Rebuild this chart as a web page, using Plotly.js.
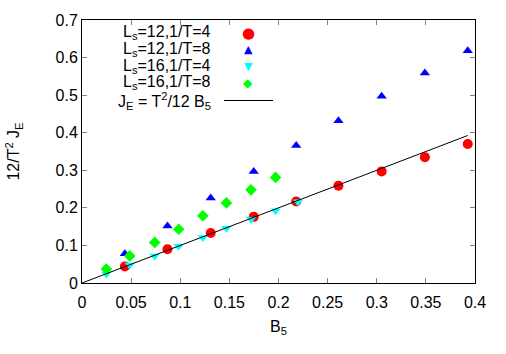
<!DOCTYPE html>
<html>
<head>
<meta charset="utf-8">
<script src="https://cdn.plot.ly/plotly-3.0.1.min.js"></script>
<style>
  html, body { margin: 0; padding: 0; background: #fff; }
  #chart { width: 506px; height: 354px; }
</style>
</head>
<body>
<div id="chart"></div>
<script>
// B5 values for the two lattice sizes
const b5L12 = [0.0436, 0.0870, 0.1310, 0.1748, 0.2180, 0.2610, 0.3050, 0.3490, 0.3926];
const b5L16 = [0.0248, 0.0486, 0.0740, 0.0984, 0.1230, 0.1470, 0.1720, 0.1970, 0.2198];

// 12/T^2 J_E
const jL12T4 = [0.044, 0.090, 0.133, 0.176, 0.217, 0.259, 0.297, 0.335, 0.370];
const jL12T8 = [0.078, 0.152, 0.226, 0.297, 0.366, 0.432, 0.497, 0.559, 0.618];
const jL16T4 = [0.024, 0.048, 0.072, 0.098, 0.121, 0.146, 0.170, 0.192, 0.216];
const jL16T8 = [0.037, 0.072, 0.108, 0.143, 0.179, 0.213, 0.248, 0.281];

// reference line J_E = T^2/12 B5
const lineX = [0, 0.3926];
const lineY = [0, 0.3926];

const labels = [
  "L<sub>s</sub>=12,1/T=4",
  "L<sub>s</sub>=12,1/T=8",
  "L<sub>s</sub>=16,1/T=4",
  "L<sub>s</sub>=16,1/T=8",
  "J<sub>E</sub> = T<sup>2</sup>/12 B<sub>5</sub>"
];
const keyGlyphs = ["●", "▲", "▼", "◆"];
const keySizes = [15, 11, 11, 12];
const colors = ["#ff0000", "#0000ff", "#00ffff", "#00ff00"];

const font = { family: "Liberation Sans, Arial, sans-serif", size: 16, color: "#000" };

const traces = [
  {
    x: b5L12, y: jL12T4, type: "scatter", mode: "markers",
    marker: { symbol: "circle", size: 10, color: colors[0] },
  },
  {
    x: b5L12, y: jL12T8, type: "scatter", mode: "markers",
    marker: { symbol: "triangle-up", size: 9, color: colors[1] },
  },
  {
    x: b5L16, y: jL16T4, type: "scatter", mode: "markers",
    marker: { symbol: "triangle-down", size: 9, color: colors[2] },
  },
  {
    x: b5L16.slice(0, jL16T8.length), y: jL16T8, type: "scatter", mode: "markers",
    marker: { symbol: "diamond", size: 9, color: colors[3] },
  },
  {
    x: lineX, y: lineY, type: "scatter", mode: "lines",
    line: { color: "#000", width: 1 },
  },
];

// gnuplot-style key: text on the left, sample on the right
// row centres in paper units (plot area is 263 px tall, from y=20)
const keyRows = [33, 49.3, 66.3, 82.5, 100.5].map(p => (283 - p) / 263);
const keyTextX = 0.3333;
const keySymX = 0.4224;
const annotations = [];
labels.forEach((t, i) => {
  annotations.push({
    text: t, xref: "paper", yref: "paper",
    x: keyTextX, y: keyRows[i],
    xanchor: "right", yanchor: "middle",
    showarrow: false, font: font,
  });
});
keyGlyphs.forEach((g, i) => {
  annotations.push({
    text: g, xref: "paper", yref: "paper",
    x: keySymX, y: keyRows[i],
    xanchor: "center", yanchor: "middle",
    showarrow: false,
    font: { family: "DejaVu Sans", size: keySizes[i], color: colors[i] },
  });
});

const shapes = [{
  type: "line", xref: "paper", yref: "paper",
  x0: 0.3613, x1: 0.486, y0: keyRows[4], y1: keyRows[4],
  line: { color: "#000", width: 1 },
}];

Plotly.newPlot(
  "chart",
  traces,
  {
    width: 506,
    height: 354,
    margin: { l: 82, r: 31, t: 20, b: 71 },
    paper_bgcolor: "#fff",
    plot_bgcolor: "#fff",
    font: font,
    showlegend: false,
    annotations: annotations,
    shapes: shapes,
    xaxis: {
      range: [0, 0.4],
      dtick: 0.05,
      tick0: 0,
      ticks: "inside",
      ticklen: 5,
      tickcolor: "#808080",
      showline: true,
      linecolor: "#000",
      linewidth: 1,
      mirror: "ticks",
      showgrid: false,
      zeroline: false,
      ticklabelstandoff: 5,
      title: { text: "B<sub>5</sub>", font: font, standoff: 10 },
    },
    yaxis: {
      range: [0, 0.7],
      dtick: 0.1,
      tick0: 0,
      ticks: "inside",
      ticklen: 5,
      tickcolor: "#808080",
      showline: true,
      linecolor: "#000",
      linewidth: 1,
      mirror: "ticks",
      showgrid: false,
      zeroline: false,
      title: { text: "12/T<sup>2</sup> J<sub>E</sub>", font: font, standoff: 31 },
    },
  },
  { displayModeBar: false, staticPlot: true }
);
</script>
</body>
</html>
